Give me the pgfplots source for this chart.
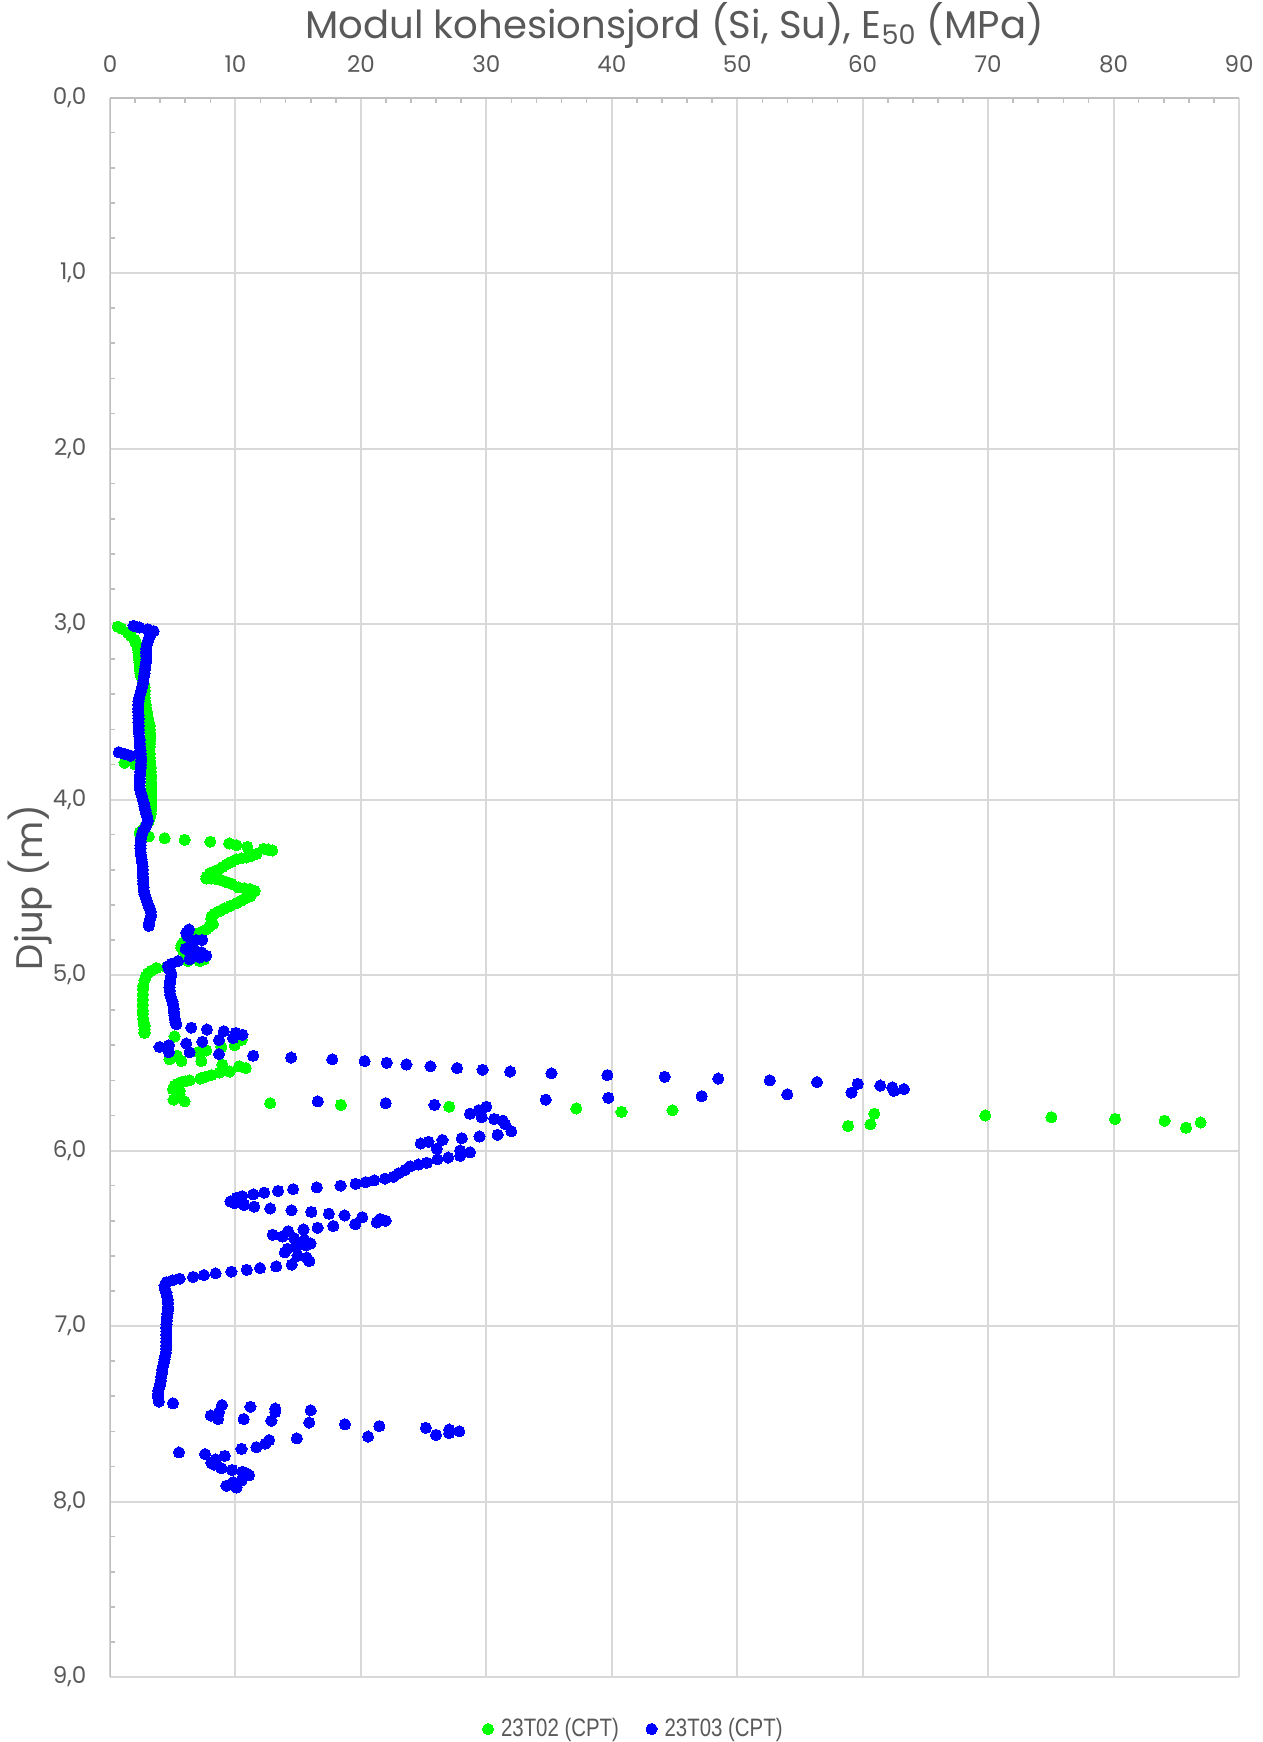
\documentclass[border=0pt]{standalone}
\usepackage{pgfplots}
\pgfplotsset{compat=1.18}
\usepackage{fontspec}
\setmainfont{Poppins}
\newfontfamily\legfont[FakeStretch=0.81]{Liberation Sans}
\definecolor{txt}{HTML}{595959}
\definecolor{gridc}{HTML}{D9D9D9}
\definecolor{axc}{HTML}{BFBFBF}
\definecolor{gr}{HTML}{00FF00}
\definecolor{bl}{HTML}{0000FF}
\begin{document}
\begin{tikzpicture}
\useasboundingbox (-55pt,48.75pt) rectangle (576.5pt,-822.25pt);
\begin{axis}[
  at={(0,0)}, anchor=north west,
  scale only axis, width=564.5pt, height=789.75pt,
  xmin=0, xmax=90, ymin=0, ymax=9, y dir=reverse,
  axis line style={draw=none},
  xtick={0,10,20,30,40,50,60,70,80,90},
  xticklabels={0,10,20,30,40,50,60,70,80,90},
  ytick={0,1,2,3,4,5,6,7,8,9},
  yticklabels={{0,0},{1,0},{2,0},{3,0},{4,0},{5,0},{6,0},{7,0},{8,0},{9,0}},
  minor x tick num=4, minor y tick num=4,
  xtick pos=upper, xticklabel pos=upper, ytick pos=left,
  tick align=inside,
  major tick length=0pt, minor tick length=2.5pt,
  minor tick style={axc, line width=0.8pt},
  grid=major, major grid style={gridc, line width=1pt},
  ticklabel style={font=\fontsize{11.5}{13}\selectfont, text=txt},
  xticklabel style={anchor=base, yshift=12.5pt},
  yticklabel style={anchor=east, xshift=-8.25pt},
  title={Modul kohesionsjord (Si, Su), E\textsubscript{50} (MPa)},
  title style={font=\fontsize{19.3}{23}\selectfont, text=txt, at={(axis description cs:0.5,1)}, anchor=center, yshift=30pt},
  ylabel={Djup (m)},
  ylabel style={font=\fontsize{18.5}{22}\selectfont, text=txt, at={(axis description cs:-0.0709,0.5)}, anchor=center},
  legend columns=2,
  legend style={draw=none, fill=none, at={(axis description cs:0.4646,-0.0329)}, anchor=center,
    font=\legfont\fontsize{12.6}{14}\selectfont, text=txt,
    /tikz/every odd column/.append style={column sep=1.7pt},
    /tikz/every even column/.append style={column sep=11.5pt}},
  legend image code/.code={\draw[#1] plot coordinates {(0pt,0pt)};},
]
\addplot[only marks, mark=*, mark size=2.8pt, color=gr, mark options={fill=gr, draw=gr, line width=0pt}] coordinates {
(0.63,3.015)(0.9,3.025)(1.42,3.05)(1.7,3.07)(1.96,3.09)(2.0,3.10)(2.15,3.12)(2.22,3.14)(2.27,3.16)(2.3,3.18)
(2.32,3.20)(2.35,3.22)(2.36,3.24)(2.38,3.26)(2.42,3.28)(2.5,3.30)(2.6,3.32)(2.7,3.34)(2.75,3.36)(2.76,3.38)
(2.76,3.40)(2.78,3.42)(2.8,3.44)(2.85,3.46)(2.88,3.48)(2.92,3.50)(2.98,3.52)(3.05,3.54)(3.1,3.56)(3.15,3.58)
(3.18,3.60)(3.2,3.62)(3.2,3.64)(3.2,3.66)(3.18,3.68)(3.15,3.70)(3.14,3.72)(3.15,3.74)(3.18,3.76)(3.2,3.78)
(3.22,3.80)(3.24,3.82)(3.25,3.84)(3.26,3.86)(3.27,3.88)(3.28,3.90)(3.29,3.92)(3.3,3.94)(3.3,3.96)(3.3,3.98)
(3.3,4.00)(3.3,4.02)(3.3,4.04)(3.28,4.06)(3.26,4.08)(3.2,4.10)(3.1,4.12)(2.95,4.14)(2.75,4.16)(2.5,4.18)(2.36,4.19)(3.1,4.21)
(1.16,3.79)(2.0,3.80)
(4.36,4.22)(5.95,4.23)(8.0,4.24)(9.5,4.25)(10.07,4.26)(10.95,4.27)(12.25,4.28)(12.6,4.285)(12.93,4.29)
(11.67,4.31)(11.3,4.32)(10.88,4.33)(10.5,4.335)(10.08,4.34)(9.7,4.355)(9.28,4.37)(8.95,4.385)(8.62,4.40)(8.3,4.41)(7.95,4.42)(7.7,4.44)(7.68,4.45)
(8.1,4.45)(8.48,4.455)(8.9,4.46)(9.28,4.47)(9.7,4.48)(10.21,4.50)(10.7,4.505)(11.14,4.51)(11.54,4.52)(11.3,4.535)
(11.2,4.55)(10.88,4.56)(10.5,4.575)(10.08,4.59)(9.6,4.605)(9.15,4.62)(8.75,4.635)(8.35,4.65)(8.1,4.665)(8.08,4.68)(8.21,4.71)(7.9,4.725)
(7.68,4.74)(7.4,4.75)(7.15,4.76)(6.85,4.765)(6.62,4.77)(6.35,4.785)(6.08,4.80)(5.85,4.815)(5.69,4.83)(5.7,4.845)(5.82,4.86)(6.0,4.88)(6.22,4.92)(7.15,4.92)(7.5,4.91)
(4.5,4.955)(3.69,4.96)(3.3,4.975)(3.02,4.99)(2.85,5.01)(2.75,5.03)(2.65,5.06)(2.62,5.08)(2.62,5.11)(2.62,5.14)(2.6,5.17)(2.62,5.20)(2.62,5.22)(2.65,5.25)(2.7,5.27)(2.75,5.29)(2.75,5.31)(2.75,5.33)
(5.15,5.35)(10.48,5.37)(9.94,5.40)(8.88,5.41)(7.68,5.43)(7.02,5.44)(5.34,5.46)(4.75,5.48)(5.69,5.49)(7.28,5.49)(8.96,5.51)(10.29,5.52)(10.82,5.53)
(9.54,5.55)(8.74,5.555)(8.08,5.57)(7.6,5.58)(7.2,5.59)(6.35,5.60)(6.0,5.605)(5.69,5.61)(5.4,5.62)(5.15,5.63)(5.02,5.65)(5.55,5.66)(5.55,5.68)(5.07,5.71)(5.95,5.72)
(12.77,5.73)(18.41,5.74)(27.04,5.75)(37.17,5.76)(40.78,5.78)(44.84,5.77)(58.84,5.86)(60.62,5.85)(60.93,5.79)(69.77,5.80)(75.04,5.81)(80.12,5.82)(84.07,5.83)(85.78,5.87)(86.94,5.84)
};
\addlegendentry{23T02 (CPT)}
\addplot[only marks, mark=*, mark size=2.8pt, color=bl, mark options={fill=bl, draw=bl, line width=0pt}] coordinates {
(1.88,3.01)(2.36,3.02)(3.02,3.03)(3.48,3.04)(3.25,3.06)(3.1,3.08)(3.0,3.10)(2.92,3.12)(2.88,3.14)(2.86,3.16)(2.88,3.18)
(2.9,3.20)(2.86,3.22)(2.82,3.24)(2.78,3.26)(2.75,3.28)(2.7,3.30)(2.66,3.32)(2.62,3.34)(2.55,3.36)(2.48,3.38)
(2.4,3.40)(2.32,3.42)(2.28,3.44)(2.26,3.46)(2.25,3.48)(2.26,3.50)(2.28,3.52)(2.28,3.54)(2.28,3.56)(2.3,3.58)
(2.3,3.60)(2.3,3.62)(2.34,3.64)(2.36,3.66)(2.38,3.68)(2.4,3.70)(2.43,3.72)(2.45,3.74)(2.48,3.76)(2.49,3.78)
(2.47,3.80)(2.45,3.82)(2.42,3.84)(2.4,3.86)(2.37,3.88)(2.36,3.90)(2.36,3.92)(2.38,3.94)(2.45,3.96)(2.55,3.98)
(2.62,4.00)(2.7,4.02)(2.75,4.04)(2.83,4.06)(2.9,4.08)(2.98,4.10)(3.02,4.12)(2.92,4.14)(2.8,4.16)(2.62,4.18)
(2.52,4.20)(2.46,4.22)(2.44,4.24)(2.43,4.26)(2.43,4.28)(2.44,4.30)(2.48,4.32)(2.52,4.34)(2.56,4.36)(2.6,4.38)
(2.62,4.40)(2.62,4.42)(2.63,4.44)(2.65,4.46)(2.66,4.48)(2.68,4.50)(2.69,4.52)(2.75,4.54)(2.85,4.56)(2.95,4.58)
(3.05,4.60)(3.18,4.62)(3.25,4.64)(3.28,4.66)(3.2,4.68)(3.12,4.70)(3.09,4.72)
(0.7,3.73)(1.16,3.74)(1.64,3.75)
(6.3,4.74)(6.08,4.76)(6.2,4.78)(6.88,4.80)(7.35,4.80)(6.5,4.82)(6.03,4.85)(6.75,4.86)(7.3,4.87)(7.68,4.89)(7.15,4.90)(6.35,4.91)
(5.42,4.92)(4.9,4.935)(4.62,4.95)(4.75,4.97)(4.89,4.99)(4.85,5.01)(4.8,5.03)(4.76,5.05)(4.75,5.07)(4.76,5.09)(4.8,5.11)(4.88,5.13)(4.98,5.15)(5.04,5.17)(5.08,5.19)(5.1,5.21)(5.13,5.23)(5.17,5.25)(5.22,5.27)(5.29,5.28)
(6.48,5.30)(7.73,5.31)(9.07,5.32)(10.02,5.33)(10.56,5.34)(9.81,5.36)(8.69,5.37)(7.36,5.38)(6.08,5.39)(4.7,5.40)(3.95,5.41)(4.7,5.44)(6.35,5.44)(8.69,5.45)
(11.41,5.46)(14.44,5.47)(17.72,5.48)(20.3,5.49)(22.06,5.50)(23.63,5.51)(25.55,5.52)(27.67,5.53)(29.7,5.54)(31.9,5.55)(35.19,5.56)(39.65,5.57)(44.22,5.58)(48.49,5.59)(52.6,5.60)(56.36,5.61)(59.61,5.62)(61.4,5.63)(62.36,5.64)(63.29,5.65)(62.48,5.66)(59.11,5.67)(53.99,5.68)(47.17,5.69)(39.73,5.70)(34.73,5.71)(16.57,5.72)(21.98,5.73)(25.87,5.74)
(30.0,5.75)(29.4,5.77)(28.7,5.79)(29.64,5.81)(30.63,5.82)(31.32,5.83)(31.5,5.85)(31.99,5.89)(30.9,5.91)(29.46,5.92)(28.05,5.93)(26.5,5.94)(25.39,5.95)(24.77,5.96)(26.05,5.99)(27.91,6.0)(28.7,6.01)(27.91,6.03)(26.96,6.04)(26.1,6.05)(25.26,6.07)(24.59,6.08)(23.92,6.09)(23.53,6.11)(23.0,6.13)(22.6,6.15)(21.93,6.16)(21.05,6.17)(20.38,6.18)(19.58,6.19)(18.38,6.20)(16.49,6.21)(14.6,6.22)(13.4,6.23)(12.29,6.24)(11.41,6.25)(10.53,6.26)(10.08,6.27)(9.6,6.29)(9.94,6.30)
(10.69,6.31)(11.49,6.32)(12.77,6.33)(14.47,6.34)(16.05,6.35)(17.45,6.36)(18.7,6.37)(20.11,6.38)(21.53,6.39)(21.98,6.40)(21.26,6.41)(19.55,6.42)(17.8,6.43)(16.55,6.44)(15.43,6.45)(14.2,6.46)(12.98,6.48)(13.75,6.49)(14.68,6.50)(15.51,6.51)(15.99,6.53)(15.62,6.54)(14.82,6.55)(14.15,6.56)(13.94,6.58)(14.95,6.60)(15.67,6.61)(15.89,6.63)(14.49,6.65)(13.24,6.66)(11.96,6.67)(10.9,6.68)(9.68,6.69)(8.42,6.70)(7.49,6.71)(6.62,6.72)(5.55,6.73)(4.97,6.74)
(4.49,6.75)(4.35,6.77)(4.4,6.79)(4.5,6.81)(4.55,6.83)(4.6,6.85)(4.62,6.87)(4.62,6.89)(4.62,6.91)(4.58,6.93)(4.55,6.95)(4.52,6.97)(4.5,6.99)(4.49,7.01)(4.49,7.03)(4.49,7.05)(4.49,7.07)(4.49,7.09)(4.49,7.11)(4.48,7.13)(4.45,7.15)(4.4,7.17)(4.35,7.19)(4.28,7.21)(4.22,7.23)(4.17,7.25)(4.12,7.27)(4.08,7.29)(4.05,7.31)(4.01,7.33)(3.93,7.35)(3.85,7.37)(3.82,7.39)(3.85,7.41)(3.9,7.43)
(5.02,7.44)(8.93,7.45)(11.2,7.46)(13.17,7.47)(16.0,7.48)(8.7,7.49)(13.17,7.49)(8.03,7.51)(8.62,7.53)(10.66,7.53)(12.87,7.54)(15.88,7.55)(18.73,7.56)(21.47,7.57)(25.18,7.58)(27.04,7.59)(27.84,7.60)(27.04,7.61)(25.99,7.62)(20.57,7.63)(14.9,7.64)(12.69,7.65)(12.39,7.67)(11.67,7.69)(10.48,7.70)(5.5,7.72)(7.58,7.73)(9.15,7.74)(8.43,7.76)(8.08,7.78)(8.3,7.79)(8.88,7.81)(9.73,7.82)(10.56,7.83)(10.88,7.84)(11.09,7.85)(10.48,7.88)(9.81,7.89)(9.28,7.91)(10.08,7.92)
};
\addlegendentry{23T03 (CPT)}
\draw[axc, line width=1.2pt] (axis cs:0,9) -- (axis cs:0,0) -- (axis cs:90,0);
\end{axis}
\end{tikzpicture}
\end{document}
